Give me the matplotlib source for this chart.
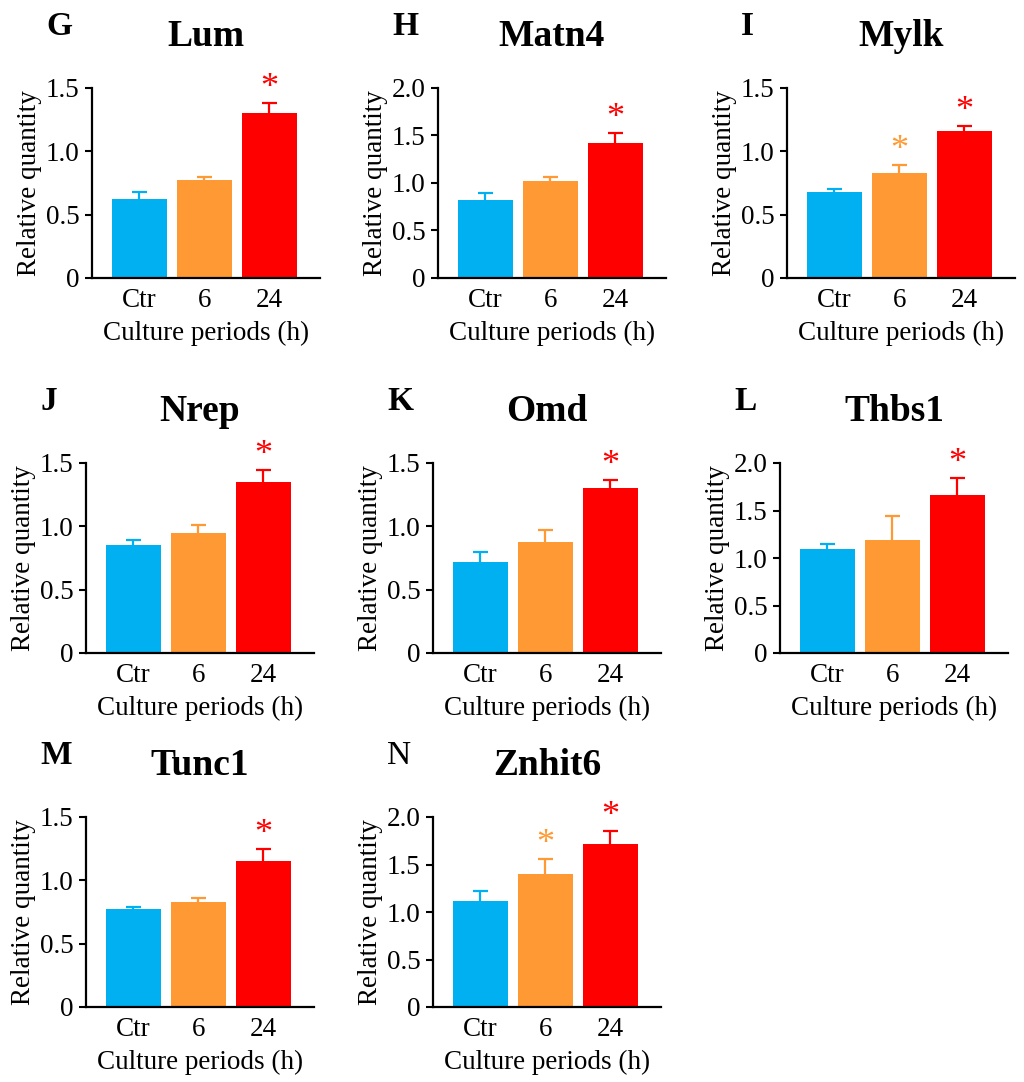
import numpy as np
import matplotlib
matplotlib.use('Agg')
import matplotlib.pyplot as plt
from matplotlib.ticker import FuncFormatter

plt.rcParams['font.family'] = ['Liberation Serif', 'DejaVu Serif']

# data
groups = ['Ctr', '6', '24']
genes = ['Lum', 'Matn4', 'Mylk', 'Nrep', 'Omd', 'Thbs1', 'Tunc1', 'Znhit6']
letters = ['G', 'H', 'I', 'J', 'K', 'L', 'M', 'N']

lum_mean = [0.62, 0.77, 1.30]
lum_err = [0.055, 0.03, 0.085]
matn4_mean = [0.82, 1.02, 1.42]
matn4_err = [0.075, 0.04, 0.11]
mylk_mean = [0.68, 0.83, 1.16]
mylk_err = [0.02, 0.06, 0.04]
nrep_mean = [0.85, 0.95, 1.35]
nrep_err = [0.045, 0.06, 0.095]
omd_mean = [0.72, 0.88, 1.305]
omd_err = [0.08, 0.09, 0.06]
thbs1_mean = [1.10, 1.19, 1.66]
thbs1_err = [0.05, 0.25, 0.18]
tunc1_mean = [0.775, 0.83, 1.15]
tunc1_err = [0.015, 0.03, 0.10]
znhit6_mean = [1.12, 1.40, 1.72]
znhit6_err = [0.105, 0.155, 0.135]

means = [lum_mean, matn4_mean, mylk_mean, nrep_mean, omd_mean, thbs1_mean, tunc1_mean, znhit6_mean]
errs = [lum_err, matn4_err, mylk_err, nrep_err, omd_err, thbs1_err, tunc1_err, znhit6_err]
ymax = [1.5, 2.0, 1.5, 1.5, 1.5, 2.0, 1.5, 2.0]
signif = [[0, 0, 1], [0, 0, 1], [0, 1, 1], [0, 0, 1],
          [0, 0, 1], [0, 0, 1], [0, 0, 1], [0, 1, 1]]

colors = ['#00B0F0', '#FF9933', '#FF0000']

# axes boxes in pixels: left, top (figure is 1024 x 1082)
W, H = 1024, 1082
boxes = [(92, 88), (438, 88), (787, 88),
         (86, 463), (433, 463), (780, 463),
         (86, 817), (433, 817)]
aw, ah = 228, 190

fig = plt.figure(figsize=(W / 100, H / 100), dpi=100)

for i, gene in enumerate(genes):
    left, top = boxes[i]
    ax = fig.add_axes([left / W, 1 - (top + ah) / H, aw / W, ah / H])
    x = np.arange(len(groups))
    m = np.array(means[i])
    e = np.array(errs[i])
    ax.bar(x, m, width=0.846, color=colors, edgecolor='none', zorder=2)
    # upper error bars only
    ax.vlines(x, m, m + e, colors=colors, linewidth=1.6, zorder=1)
    ax.hlines(m + e, x - 0.12, x + 0.12, colors=colors, linewidth=1.6, zorder=1)
    for j in range(3):
        if signif[i][j]:
            ax.annotate('*', (x[j], m[j] + e[j]), xytext=(0, -1.5),
                        textcoords='offset points', ha='center', va='bottom',
                        color=colors[j], fontsize=26, annotation_clip=False)

    ax.set_xlim(-0.73, 2.78)
    ax.set_ylim(0, ymax[i])
    ax.set_yticks(np.arange(0, ymax[i] + 0.01, 0.5))
    ax.yaxis.set_major_formatter(FuncFormatter(lambda v, p: '0' if v == 0 else f'{v:.1f}'))
    ax.set_xticks(x)
    ax.set_xticklabels(groups)
    ax.tick_params(axis='x', length=0, pad=7, labelsize=19.5)
    ax.tick_params(axis='y', length=5, width=1.5, pad=4, labelsize=19.5)
    for s in ['top', 'right']:
        ax.spines[s].set_visible(False)
    for s in ['left', 'bottom']:
        ax.spines[s].set_linewidth(1.6)

    ax.set_ylabel('Relative quantity', fontsize=19.5)
    ax.yaxis.set_label_coords(-0.22, 0.5)
    ax.set_xlabel('Culture periods (h)', fontsize=19.5, labelpad=6)
    ax.set_title(gene, fontsize=27, fontweight='bold', pad=30)

    weight = 'normal' if letters[i] == 'N' else 'bold'
    fig.text((left - 46) / W, 1 - (top - 53) / H, letters[i], fontsize=24,
             fontweight=weight, ha='left', va='baseline')

fig.savefig('out.png', dpi=100)
